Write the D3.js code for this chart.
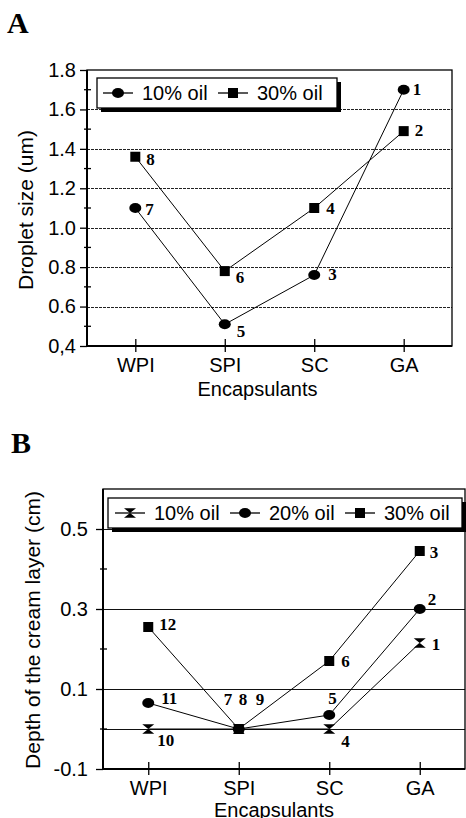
<!DOCTYPE html>
<html>
<head>
<meta charset="utf-8">
<script src="https://cdn.jsdelivr.net/npm/d3@7"></script>
<style>
  body { margin: 0; background: #fff; }
  svg { display: block; }
  .sans { font-family: Arial, "Liberation Sans", sans-serif; }
  .serif { font-family: "Times New Roman", "Liberation Serif", serif; font-weight: bold; }
</style>
</head>
<body>
<svg id="chart" width="466" height="818"></svg>
<script>
var categories = ["WPI", "SPI", "SC", "GA"];

// Panel A - droplet size (um)
var dropletOil10 = [1.10, 0.51, 0.76, 1.70];
var dropletOil30 = [1.36, 0.78, 1.10, 1.49];
var dropletLabels10 = ["7", "5", "3", "1"];
var dropletLabels30 = ["8", "6", "4", "2"];
var dropletTicks = [0.4, 0.6, 0.8, 1.0, 1.2, 1.4, 1.6, 1.8];
var dropletTickLabels = ["0,4", "0.6", "0.8", "1.0", "1.2", "1.4", "1.6", "1.8"];
var dropletMinor = [0.5, 0.7, 0.9, 1.1, 1.3, 1.5, 1.7];
var dropletGrid = [0.6, 0.8, 1.0, 1.2, 1.4, 1.6];

// Panel B - depth of the cream layer (cm)
var creamOil10 = [0.0, 0.0, 0.0, 0.215];
var creamOil20 = [0.065, 0.0, 0.035, 0.30];
var creamOil30 = [0.255, 0.0, 0.17, 0.445];
var creamLabels10 = ["10", "7", "4", "1"];
var creamLabels20 = ["11", "8", "5", "2"];
var creamLabels30 = ["12", "9", "6", "3"];
var creamTicks = [-0.1, 0.1, 0.3, 0.5];
var creamTickLabels = ["-0.1", "0.1", "0.3", "0.5"];
var creamMinor = [0.0, 0.2, 0.4];
var creamGrid = [0.0, 0.1, 0.3, 0.5];

var svg = d3.select("#chart");

svg.append("rect").attr("width", 466).attr("height", 818).attr("fill", "#fff");

function hourglass(s) {
  return "M" + (-s) + "," + (-s * 0.8) + "H" + s + "L" + (-s) + "," + (s * 0.8) + "H" + s + "Z";
}

function drawMarker(sel, shape) {
  if (shape == "circle") {
    sel.append("ellipse").attr("rx", 6).attr("ry", 5).attr("fill", "#000");
  } else if (shape == "square") {
    sel.append("rect").attr("x", -5).attr("y", -5).attr("width", 10).attr("height", 10).attr("fill", "#000");
  } else {
    sel.append("path").attr("d", hourglass(6)).attr("fill", "#000");
  }
}

function drawPanel(o) {
  var width = o.right - o.left,
      height = o.bottom - o.top,
      g = svg.append("g").attr("transform", "translate(" + o.left + "," + o.top + ")");

  var x = d3.scalePoint()
      .domain(categories)
      .range([0, width])
      .padding(o.pad);

  var y = d3.scaleLinear()
      .domain(o.domain)
      .range([height, 0]);

  // gridlines
  g.append("g")
    .selectAll("line")
    .data(o.grid)
    .enter().append("line")
      .attr("x1", 0)
      .attr("x2", width)
      .attr("y1", function(d) { return Math.round(y(d)) + 0.5; })
      .attr("y2", function(d) { return Math.round(y(d)) + 0.5; })
      .attr("stroke", o.gridColor)
      .attr("stroke-width", 1)
      .attr("stroke-dasharray", o.gridDash);

  // frame
  g.append("rect")
      .attr("width", width)
      .attr("height", height)
      .attr("fill", "none")
      .attr("stroke", "#000")
      .attr("stroke-width", 1.3);
  g.append("path")
      .attr("d", "M0,0V" + height + "H" + width)
      .attr("fill", "none")
      .attr("stroke", "#000")
      .attr("stroke-width", 2);

  // y axis
  var yAxis = g.append("g")
      .attr("class", "sans")
      .call(d3.axisLeft(y)
        .tickValues(o.ticks)
        .tickFormat(function(d, i) { return o.tickLabels[i]; })
        .tickSize(7)
        .tickPadding(o.yPad));
  yAxis.select(".domain").remove();
  yAxis.selectAll("line").attr("stroke-width", 1.3);
  yAxis.selectAll("text")
      .attr("font-size", 20)
      .attr("fill", "#000");

  g.append("g")
    .selectAll("line")
    .data(o.minor)
    .enter().append("line")
      .attr("x1", -3)
      .attr("x2", 4)
      .attr("y1", function(d) { return y(d); })
      .attr("y2", function(d) { return y(d); })
      .attr("stroke", "#000")
      .attr("stroke-width", 1.3);

  // x axis
  var xAxis = g.append("g")
      .attr("class", "sans")
      .attr("transform", "translate(0," + height + ")")
      .call(d3.axisBottom(x).tickSize(6));
  xAxis.select(".domain").remove();
  xAxis.selectAll("line").attr("y1", -7).attr("stroke-width", 1.3);
  xAxis.selectAll("text")
      .attr("y", 26)
      .attr("dy", 0)
      .attr("font-size", 20)
      .attr("fill", "#000");

  g.append("text")
      .attr("class", "sans")
      .attr("x", width / 2 + o.xTitleShift)
      .attr("y", height + o.xTitleY)
      .attr("text-anchor", "middle")
      .attr("font-size", 20)
      .text("Encapsulants");

  g.append("text")
      .attr("class", "sans")
      .attr("transform", "translate(" + o.yTitleX + "," + o.yTitleY + ") rotate(-90)")
      .attr("text-anchor", "middle")
      .attr("font-size", 21)
      .text(o.yTitle);

  // series
  o.series.forEach(function(s) {
    var line = d3.line()
        .x(function(d, i) { return x(categories[i]); })
        .y(function(d) { return y(d); });

    g.append("path")
        .datum(s.values)
        .attr("d", line)
        .attr("fill", "none")
        .attr("stroke", "#000")
        .attr("stroke-width", 1);

    var pts = g.append("g")
      .selectAll("g")
      .data(s.values)
      .enter().append("g")
        .attr("transform", function(d, i) { return "translate(" + x(categories[i]) + "," + y(d) + ")"; });
    drawMarker(pts, s.shape);

    pts.append("text")
        .attr("class", "serif")
        .attr("x", function(d, i) { return s.offsets[i][0]; })
        .attr("y", function(d, i) { return s.offsets[i][1]; })
        .attr("font-size", 17)
        .text(function(d, i) { return s.labels[i]; });
  });

  // legend
  var lg = svg.append("g")
      .attr("transform", "translate(" + o.legend.x + "," + o.legend.y + ")");
  lg.append("rect")
      .attr("x", 4)
      .attr("y", 4)
      .attr("width", o.legend.w)
      .attr("height", o.legend.h)
      .attr("fill", "#000");
  lg.append("rect")
      .attr("width", o.legend.w)
      .attr("height", o.legend.h)
      .attr("fill", "#fff")
      .attr("stroke", "#000")
      .attr("stroke-width", 1.3);

  var items = lg.selectAll(".item")
    .data(o.series)
    .enter().append("g")
      .attr("class", "item")
      .attr("transform", function(d, i) { return "translate(" + o.legend.itemX[i] + "," + (o.legend.h / 2) + ")"; });
  items.append("line")
      .attr("x1", 0)
      .attr("x2", 30)
      .attr("stroke", "#000")
      .attr("stroke-width", 1.3);
  items.each(function(d) {
    drawMarker(d3.select(this).append("g").attr("transform", "translate(15,0)"), d.shape);
  });
  items.append("text")
      .attr("class", "sans")
      .attr("x", 39)
      .attr("dy", "0.36em")
      .attr("font-size", 20)
      .text(function(d) { return d.name; });
}

// panel letters
svg.append("text").attr("class", "serif").attr("x", 7).attr("y", 33)
    .attr("font-size", 30).text("A");
svg.append("text").attr("class", "serif").attr("x", 11).attr("y", 453)
    .attr("font-size", 30).text("B");

drawPanel({
  left: 87, right: 452, top: 70, bottom: 346,
  pad: 0.54,
  domain: [0.4, 1.8],
  ticks: dropletTicks,
  tickLabels: dropletTickLabels,
  minor: dropletMinor,
  grid: dropletGrid,
  gridColor: "#222",
  gridDash: "3,1",
  yPad: 4,
  xTitleShift: -12,
  xTitleY: 50,
  yTitleX: -54,
  yTitleY: 140,
  yTitle: "Droplet size (um)",
  series: [
    {name: "10% oil", shape: "circle", values: dropletOil10, labels: dropletLabels10,
     offsets: [[10, 7], [12, 13], [14, 5], [9, 5]]},
    {name: "30% oil", shape: "square", values: dropletOil30, labels: dropletLabels30,
     offsets: [[11, 8], [11, 12], [12, 6], [11, 5]]}
  ],
  legend: {x: 97, y: 78, w: 240, h: 30, itemX: [6, 121]}
});

drawPanel({
  left: 103, right: 465, top: 489, bottom: 769,
  pad: 0.5,
  domain: [-0.1, 0.6],
  ticks: creamTicks,
  tickLabels: creamTickLabels,
  minor: creamMinor,
  grid: creamGrid,
  gridColor: "#111",
  gridDash: null,
  yPad: 8,
  xTitleShift: -10,
  xTitleY: 48,
  yTitleX: -63,
  yTitleY: 141,
  yTitle: "Depth of the cream layer (cm)",
  series: [
    {name: "10% oil", shape: "hourglass", values: creamOil10, labels: creamLabels10,
     offsets: [[9, 17], [-15, -24], [12, 18], [12, 7]]},
    {name: "20% oil", shape: "circle", values: creamOil20, labels: creamLabels20,
     offsets: [[13, 1], [0, -24], [-1, -11], [8, -4]]},
    {name: "30% oil", shape: "square", values: creamOil30, labels: creamLabels30,
     offsets: [[11, 3], [17, -24], [12, 6], [10, 7]]}
  ],
  legend: {x: 108, y: 498, w: 354, h: 30, itemX: [7, 122, 237]}
});
</script>
</body>
</html>
